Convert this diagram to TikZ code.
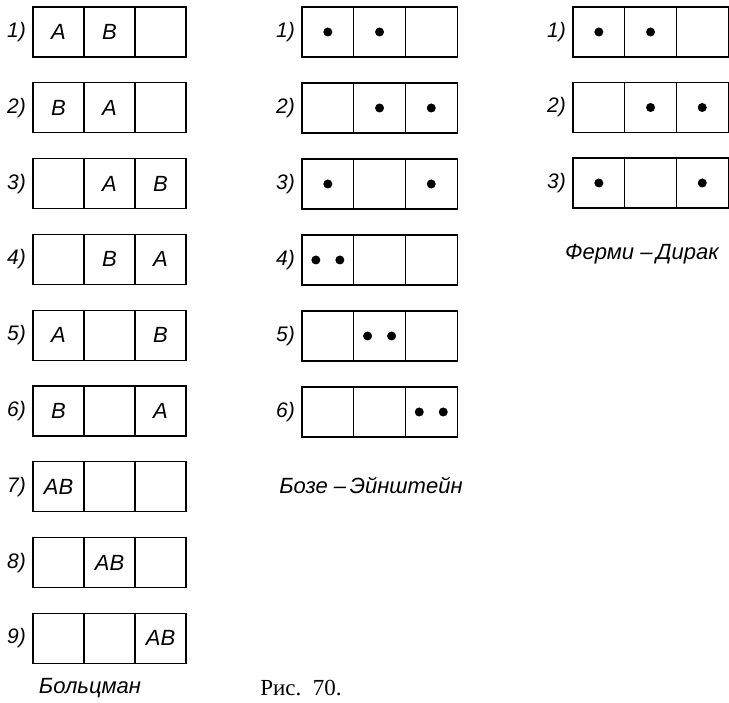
\documentclass[tikz,border=0pt]{standalone}
\usepackage{fontspec}
\setmainfont{Liberation Serif}
\setsansfont{Liberation Sans}
\usetikzlibrary{positioning}
\tikzstyle{cell}=[
    draw,line width=1.2pt,inner sep=0pt,outer sep=0pt,
    minimum height=50pt,
    font=\sffamily\itshape\fontsize{22}{22}\selectfont
    ]
\tikzstyle{num}=[inner sep=0pt,font=\sffamily\itshape\fontsize{21}{21}\selectfont]
\tikzstyle{caption}=[inner sep=0pt,font=\sffamily\itshape\fontsize{22}{22}\selectfont]
\newcommand{\onedot}{\tikz\fill (0,0) circle (4.5pt);}
\newcommand{\twodots}{\tikz{\fill (0,0) circle (4.5pt) (24pt,0) circle (4.5pt);}}
% one row of three cells: name, left, top, cell width, label, contents
\newcommand{\stateRow}[8]{
\node[cell,minimum width=#4pt,anchor=north west] (#1a) at (#2,#3) {#6};
\node[cell,minimum width=#4pt,right=0pt of #1a] (#1b) {#7};
\node[cell,minimum width=#4pt,right=0pt of #1b] (#1c) {#8};
\node[num,left=7pt of #1a] (#1n) {#5};
}

\begin{document}
\begin{tikzpicture}[x=1pt,y=-1pt]
\useasboundingbox (0,0) rectangle (729,703);
%Boltzmann
\foreach \i/\p/\q/\r in {1/A/B/{},2/B/A/{},3/{}/A/B,4/{}/B/A,5/A/{}/B,
    6/B/{}/A,7/AB/{}/{},8/{}/AB/{},9/{}/{}/AB}{
  \pgfmathsetmacro{\top}{7+(\i-1)*75.8}
  \stateRow{bo\i}{33}{\top}{51}{\i)}{\p}{\q}{\r}
}
%Bose-Einstein
\foreach \i/\p/\q/\r in {1/\onedot/\onedot/{},2/{}/\onedot/\onedot,3/\onedot/{}/\onedot,
    4/\twodots/{}/{},5/{}/\twodots/{},6/{}/{}/\twodots}{
  \pgfmathsetmacro{\top}{7+(\i-1)*76}
  \stateRow{be\i}{302}{\top}{51.7}{\i)}{\p}{\q}{\r}
}
%Fermi-Dirac
\foreach \i/\p/\q/\r in {1/\onedot/\onedot/{},2/{}/\onedot/\onedot,3/\onedot/{}/\onedot}{
  \pgfmathsetmacro{\top}{7+(\i-1)*75.5}
  \stateRow{fd\i}{573}{\top}{51.7}{\i)}{\p}{\q}{\r}
}
%captions
\node[caption] (bolt) at (90,688) {Больцман};
\node[caption] (bose) at (371,485) {Бозе –\,Эйнштейн};
\node[caption] (fermi) at (642,254) {Ферми –\,Дирак};
\node[inner sep=0pt,font=\rmfamily\fontsize{23}{23}\selectfont] (fig) at (301,688) {Рис.~~70.};
\end{tikzpicture}
\end{document}
